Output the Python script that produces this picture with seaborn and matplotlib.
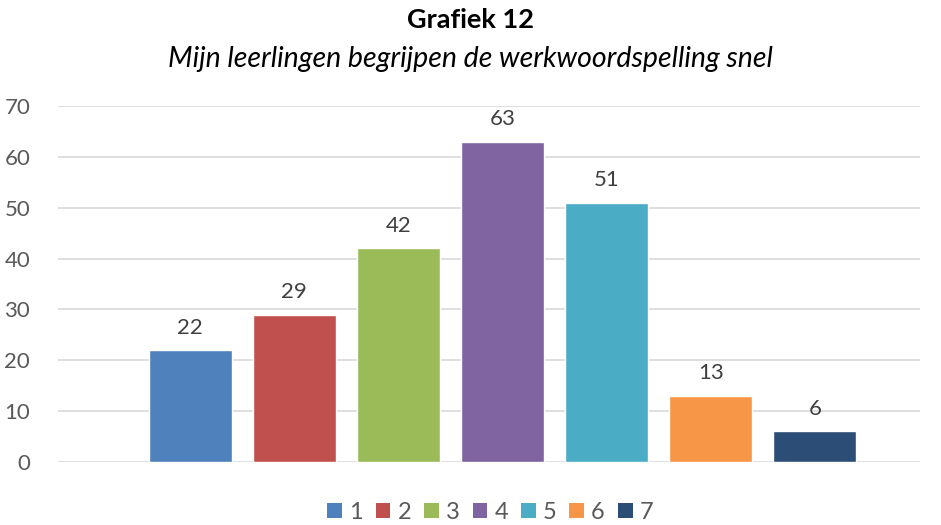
import matplotlib
matplotlib.use("Agg")
import matplotlib.pyplot as plt
import seaborn as sns
import pandas as pd
from matplotlib.patches import Patch

# data
categories = ["1", "2", "3", "4", "5", "6", "7"]
values = [22, 29, 42, 63, 51, 13, 6]
colors = ["#4F81BD", "#C0504D", "#9BBB59", "#8064A2", "#4BACC6", "#F79646", "#2C4D75"]

sns.set_theme(style="white")
plt.rcParams["font.family"] = ["Lato", "DejaVu Sans"]

df = pd.DataFrame({"cat": categories, "val": values})

fig = plt.figure(figsize=(9.41, 5.25), dpi=100)
ax = fig.add_axes([0.0616, 0.12, 0.916, 0.678])

sns.barplot(data=df, x="cat", y="val", hue="cat", palette=colors,
            dodge=False, width=0.8, legend=False, ax=ax, saturation=1)

for c in ax.containers:
    ax.bar_label(c, padding=9, fontsize=16, color="#404040")

ax.set_ylim(0, 70)
ax.set_yticks(range(0, 71, 10))
ax.set_xlim(-1.27, 7.01)
ax.set_xticks([])
ax.set_xlabel("")
ax.set_ylabel("")
ax.grid(axis="y", color="#D9D9D9", linewidth=1.2)
ax.set_axisbelow(True)
for s in ax.spines.values():
    s.set_visible(False)
ax.tick_params(axis="y", length=0, pad=20, labelsize=16, labelcolor="#595959")

fig.text(0.5, 0.962, "Grafiek 12", ha="center", va="center",
         fontsize=19.5, fontweight="bold", color="black")
fig.text(0.5, 0.888, "Mijn leerlingen begrijpen de werkwoordspelling snel",
         ha="center", va="center", fontsize=20.5, fontstyle="italic", color="black")

handles = [Patch(facecolor=col, edgecolor="none") for col in colors]
fig.legend(handles, categories, loc="center", bbox_to_anchor=(0.521, 0.024),
           ncol=7, frameon=False, fontsize=17, handlelength=0.62, handleheight=0.62,
           handletextpad=0.3, columnspacing=0.55, labelcolor="#595959")

fig.savefig("out.png", dpi=100)
